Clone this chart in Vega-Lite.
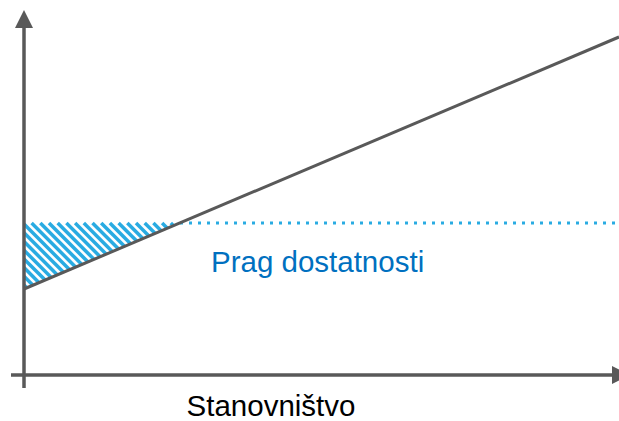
{
  "$schema": "https://vega.github.io/schema/vega-lite/v6.json",
  "width": 619,
  "height": 421,
  "autosize": {"type": "none"},
  "padding": 0,
  "background": "white",
  "config": {"view": {"stroke": null}},
  "datasets": {
    "hatch": [
      {"x": 0, "y": 90, "x2": 2.81, "y2": 87.19},
      {"x": 0, "y": 98.7, "x2": 8.93, "y2": 89.77},
      {"x": 0, "y": 107.4, "x2": 15.05, "y2": 92.35},
      {"x": 0, "y": 116.1, "x2": 21.17, "y2": 94.93},
      {"x": 0, "y": 124.8, "x2": 27.29, "y2": 97.51},
      {"x": 0, "y": 133.5, "x2": 33.41, "y2": 100.09},
      {"x": 0, "y": 142.2, "x2": 39.53, "y2": 102.67},
      {"x": 0, "y": 150.9, "x2": 45.65, "y2": 105.25},
      {"x": 7.6, "y": 152, "x2": 51.77, "y2": 107.83},
      {"x": 16.3, "y": 152, "x2": 57.88, "y2": 110.42},
      {"x": 25.0, "y": 152, "x2": 64.0, "y2": 113.0},
      {"x": 33.7, "y": 152, "x2": 70.12, "y2": 115.58},
      {"x": 42.4, "y": 152, "x2": 76.24, "y2": 118.16},
      {"x": 51.1, "y": 152, "x2": 82.36, "y2": 120.74},
      {"x": 59.8, "y": 152, "x2": 88.48, "y2": 123.32},
      {"x": 68.5, "y": 152, "x2": 94.6, "y2": 125.9},
      {"x": 77.2, "y": 152, "x2": 100.72, "y2": 128.48},
      {"x": 85.9, "y": 152, "x2": 106.84, "y2": 131.06},
      {"x": 94.6, "y": 152, "x2": 112.95, "y2": 133.65},
      {"x": 103.3, "y": 152, "x2": 119.07, "y2": 136.23},
      {"x": 112.0, "y": 152, "x2": 125.19, "y2": 138.81},
      {"x": 120.7, "y": 152, "x2": 131.31, "y2": 141.39},
      {"x": 129.4, "y": 152, "x2": 137.43, "y2": 143.97},
      {"x": 138.1, "y": 152, "x2": 143.55, "y2": 146.55},
      {"x": 146.8, "y": 152, "x2": 149.67, "y2": 149.13}
    ],
    "segments": [
      {"part": "threshold", "x": 156, "y": 152, "x2": 595, "y2": 152},
      {"part": "axis", "x": 0, "y": -13, "x2": 0, "y2": 350},
      {"part": "axis", "x": -13, "y": 0, "x2": 590, "y2": 0},
      {"part": "line", "x": 0, "y": 86, "x2": 595, "y2": 338}
    ],
    "arrows": [
      {"dir": "up", "x": 0, "y": 356},
      {"dir": "right", "x": 597, "y": 0}
    ],
    "labels": [
      {"kind": "threshold", "x": 187, "y": 103, "text": "Prag dostatnosti"},
      {"kind": "axis", "x": 247, "y": -41, "text": "Stanovništvo"}
    ]
  },
  "encoding": {
    "x": {"field": "x", "type": "quantitative", "scale": {"domain": [-24, 595], "nice": false, "zero": false}, "axis": null},
    "y": {"field": "y", "type": "quantitative", "scale": {"domain": [-46, 375], "nice": false, "zero": false}, "axis": null}
  },
  "layer": [
    {
      "data": {"name": "hatch"},
      "mark": {"type": "rule", "color": "#29abe2", "strokeWidth": 3.5, "strokeCap": "butt"},
      "encoding": {"x2": {"field": "x2"}, "y2": {"field": "y2"}}
    },
    {
      "data": {"name": "segments"},
      "transform": [{"filter": "datum.part === 'threshold'"}],
      "mark": {"type": "rule", "color": "#29abe2", "strokeWidth": 3, "strokeDash": [3, 6], "strokeCap": "butt"},
      "encoding": {"x2": {"field": "x2"}, "y2": {"field": "y2"}}
    },
    {
      "data": {"name": "segments"},
      "transform": [{"filter": "datum.part === 'axis'"}],
      "mark": {"type": "rule", "color": "#595959", "strokeWidth": 3.5},
      "encoding": {"x2": {"field": "x2"}, "y2": {"field": "y2"}}
    },
    {
      "data": {"name": "segments"},
      "transform": [{"filter": "datum.part === 'line'"}],
      "mark": {"type": "rule", "color": "#595959", "strokeWidth": 3},
      "encoding": {"x2": {"field": "x2"}, "y2": {"field": "y2"}}
    },
    {
      "data": {"name": "arrows"},
      "transform": [{"filter": "datum.dir === 'up'"}],
      "mark": {"type": "point", "shape": "M-1,1L0,-1L1,1Z", "filled": true, "color": "#595959", "opacity": 1, "size": 324}
    },
    {
      "data": {"name": "arrows"},
      "transform": [{"filter": "datum.dir === 'right'"}],
      "mark": {"type": "point", "shape": "M-1,-1L1,0L-1,1Z", "filled": true, "color": "#595959", "opacity": 1, "size": 324}
    },
    {
      "data": {"name": "labels"},
      "transform": [{"filter": "datum.kind === 'threshold'"}],
      "mark": {"type": "text", "align": "left", "baseline": "alphabetic", "font": "Liberation Sans", "fontSize": 29.5, "color": "#0070c0"},
      "encoding": {"text": {"field": "text"}}
    },
    {
      "data": {"name": "labels"},
      "transform": [{"filter": "datum.kind === 'axis'"}],
      "mark": {"type": "text", "align": "center", "baseline": "alphabetic", "font": "Liberation Sans", "fontSize": 29.5, "color": "#000000"},
      "encoding": {"text": {"field": "text"}}
    }
  ]
}
